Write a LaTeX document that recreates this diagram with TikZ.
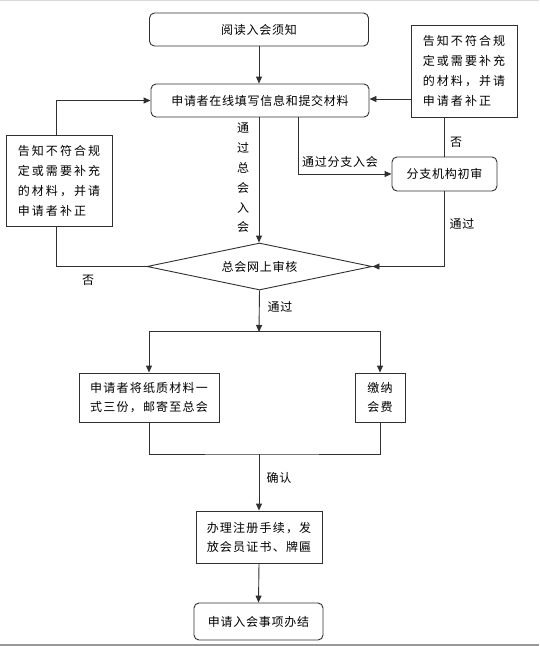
\documentclass[tikz,border=0pt]{standalone}
\usepackage{fontspec}
\setmainfont{Noto Sans CJK SC}
\newfontfamily\cjkA[LetterSpace=6]{Noto Sans CJK SC}
\newfontfamily\cjkB[LetterSpace=17]{Noto Sans CJK SC}
\newfontfamily\cjkC[LetterSpace=10]{Noto Sans CJK SC}
\usetikzlibrary{arrows.meta,shapes.geometric}
\definecolor{ln}{HTML}{303030}
\tikzset{
  base/.style={draw=ln, line width=0.9pt, inner sep=0pt, align=center, text=black},
  rbox/.style={base, rounded corners=5pt, font=\cjkA\fontsize{12}{19}\selectfont},
  sbox/.style={base, font=\cjkC\fontsize{12}{19}\selectfont},
  note/.style={base, align=left, font=\cjkB\fontsize{12}{20}\selectfont},
  lbl/.style={inner sep=0pt, font=\cjkA\fontsize{12}{20}\selectfont},
  conn/.style={draw=ln, line width=0.9pt},
  arr/.style={conn, -{Triangle[length=7pt,width=6pt]}}
}
\begin{document}
\begin{tikzpicture}[x=1pt,y=-1pt]
\useasboundingbox (0,0) rectangle (539,646);
\draw[line width=1pt, gray!30] (0,0.5) -- (539,0.5);
\draw[line width=1.5pt, gray!80] (0,645) -- (539,645);

\node[rbox, minimum width=219pt, minimum height=33pt] (read) at (259,29.5) {阅读入会须知};
\node[rbox, minimum width=218pt, minimum height=33pt] (fill) at (260,100.5) {申请者在线填写信息和提交材料};
\node[note, minimum width=106pt, minimum height=91pt] (left) at (59,180.5) {告知不符合规\\定或需要补充\\的材料，并请\\申请者补正};
\node[note, minimum width=106pt, minimum height=92pt] (right) at (464,71) {告知不符合规\\定或需要补充\\的材料，并请\\申请者补正};
\node[rbox, minimum width=105pt, minimum height=34pt] (branch) at (444.5,174) {分支机构初审};
\node[base, diamond, aspect=4.8, minimum width=225pt, minimum height=47pt, font=\cjkA\fontsize{12}{19}\selectfont] (dia) at (259.5,266.5) {总会网上审核};
\node[sbox, minimum width=140pt, minimum height=49pt] (paper) at (149,397.5) {申请者将纸质材料一\\式三份，邮寄至总会};
\node[sbox, minimum width=50pt, minimum height=49pt] (fee) at (380,397.5) {缴纳\\会费};
\node[sbox, minimum width=126pt, minimum height=52pt] (reg) at (259,537) {办理注册手续，发\\放会员证书、牌匾};
\node[rbox, minimum width=129pt, minimum height=37pt] (done) at (258.5,621.5) {申请入会事项办结};

\coordinate (split) at (259,331);
\coordinate (join) at (259,454);

% read -> fill
\draw[arr] (read.south) -- (read.south |- fill.north);
% left note -> fill
\draw[arr] ([xshift=-3pt]left.north) |- (fill.west);
% diamond -> left note (no)
\draw[conn] (dia.west) -| ([xshift=-3pt]left.south);
\node[lbl] (no1) at (88,280) {否};
% right note -> fill
\draw[arr] ([yshift=-28pt]right.west) coordinate (r1) -- (r1 -| fill.east);
% branch -> right note (no)
\draw[conn] (branch.north) -- (branch.north |- right.south);
\node[lbl] (no2) at (456,142) {否};
% fill -> branch
\draw[arr] ([xshift=38pt]fill.south) |- (branch.west);
\node[lbl] (viab) at (340,162) {通过分支入会};
% fill -> diamond
\draw[arr] (read.south |- fill.south) -- (read.south |- dia.north);
\node[lbl, align=center, font=\fontsize{12}{19.8}\selectfont] (viah) at (243,178) {通\\过\\总\\会\\入\\会};
% branch -> diamond
\draw[arr] (branch.south) |- (dia.east);
\node[lbl] (pass1) at (462,224) {通过};
% diamond -> split
\draw[arr] (dia.south) -- ([yshift=-1pt]split);
\node[lbl] (pass2) at (280,307) {通过};
\draw[arr] (split) -| (paper.north);
\draw[arr] (split) -| (fee.north);
% join
\draw[conn] (paper.south) |- (join) -| (fee.south);
\draw[arr] (join) -- (reg.north);
\node[lbl] (ok) at (279,478) {确认};
\draw[arr] (reg.south) -- (done.north);
\end{tikzpicture}
\end{document}
